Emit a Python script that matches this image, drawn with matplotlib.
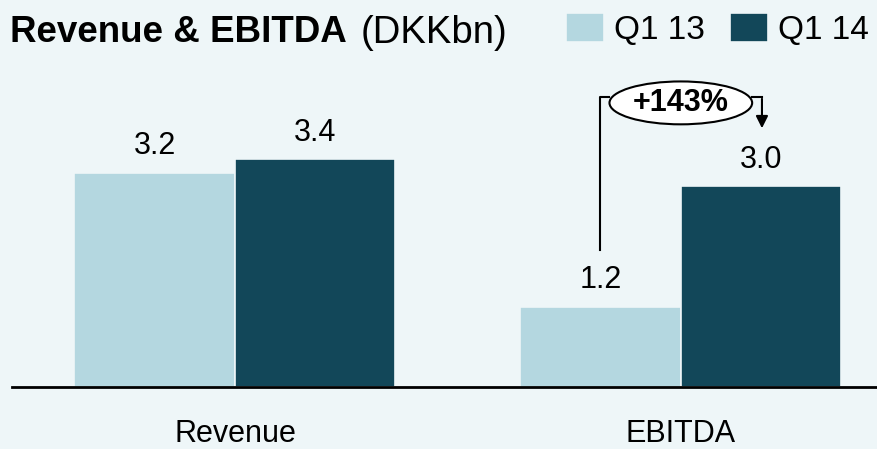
import matplotlib.pyplot as plt
from matplotlib.patches import Ellipse
import numpy as np

plt.rcParams['font.family'] = ['Liberation Sans', 'DejaVu Sans']

# -----------------------------
# Data
# -----------------------------
categories = ["Revenue", "EBITDA"]
series_names = ["Q1 13", "Q1 14"]
q1_13 = [3.2, 1.2]
q1_14 = [3.4, 3.0]
growth_label = "+143%"

light = "#B4D7E0"
dark = "#124759"
bg = "#EEF6F8"

# -----------------------------
# Figure
# -----------------------------
fig = plt.figure(figsize=(8.77, 4.49), dpi=100, facecolor=bg)
ax = fig.add_axes([12 / 877, 62 / 449, 865 / 877, 327 / 449])
ax.set_facecolor(bg)

x = np.arange(len(categories))
w = 0.36
b1 = ax.bar(x - w / 2, q1_13, w, color=light, edgecolor=bg, linewidth=1.2, label=series_names[0])
b2 = ax.bar(x + w / 2, q1_14, w, color=dark, edgecolor=bg, linewidth=1.2, label=series_names[1])

for bars, vals in ((b1, q1_13), (b2, q1_14)):
    for bar, v in zip(bars, vals):
        ax.annotate(f"{v:.1f}", (bar.get_x() + bar.get_width() / 2, bar.get_height()),
                    xytext=(0, 8), textcoords="offset points",
                    ha="center", va="bottom", fontsize=22)

ax.set_xlim(-0.5, 1.44)
ax.set_ylim(0, 4.88)
for s in ["top", "right", "left"]:
    ax.spines[s].set_visible(False)
ax.spines["bottom"].set_linewidth(2)
ax.set_yticks([])
ax.set_xticks(x)
ax.set_xticklabels(categories, fontsize=22)
ax.tick_params(axis="x", length=0, pad=23)

# -----------------------------
# Growth callout
# -----------------------------
xl = x[1] - 0.182
xr = x[1] + 0.182
y_line = 4.33
ax.plot([xl, xl, x[1] - 0.16], [2.04, y_line, y_line], color="black", lw=1.5)
ax.plot([x[1] + 0.16, xr], [y_line, y_line], color="black", lw=1.5)
ax.annotate("", xy=(xr, 3.82), xytext=(xr, y_line + 0.012),
            arrowprops=dict(arrowstyle="-|>", color="black", lw=1.5, mutation_scale=18))
ax.add_patch(Ellipse((x[1], 4.24), 0.32, 0.64, facecolor="white", edgecolor="black", lw=1.5, zorder=3))
ax.text(x[1], 4.24, growth_label, ha="center", va="center", fontsize=22, fontweight="bold", zorder=4)

# -----------------------------
# Title and legend
# -----------------------------
fig.text(10 / 877, 1 - 33 / 449, "Revenue & EBITDA", fontsize=26.5, fontweight="bold", va="center")
fig.text(361 / 877, 1 - 33 / 449, "(DKKbn)", fontsize=27.5, va="center")
fig.legend(handles=[b1, b2], loc="upper right", bbox_to_anchor=(886 / 877, 1 + 4 / 449), ncol=2,
           frameon=False, fontsize=24, handlelength=1.15, handleheight=1.0, borderpad=0,
           columnspacing=0.75, handletextpad=0.3)

fig.savefig("out.png", dpi=100, facecolor=bg)
